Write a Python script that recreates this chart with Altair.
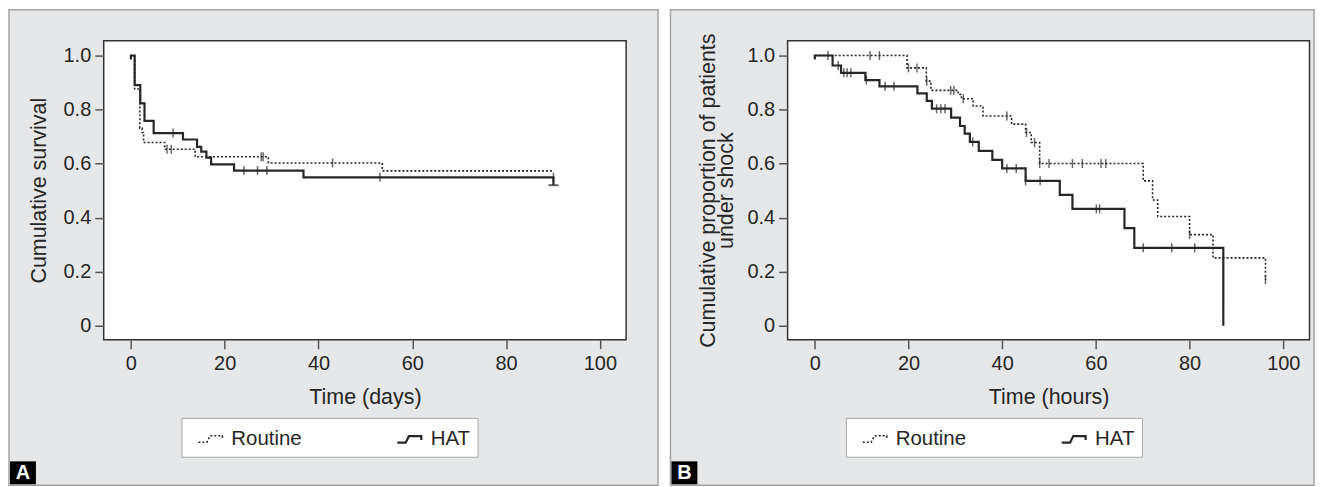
import altair as alt
import pandas as pd

FONT = "Liberation Sans"
INK = "#262626"

# ---------------- Panel A : survival (days) ----------------
a_hat_t = [0, 0, 0.8, 2.0, 2.9, 4.85, 11.1, 14.1, 15.0, 16.1, 17.1, 22.0, 36.8, 90.1, 90.1]
a_hat_v = [0.985, 1.0, 0.890, 0.823, 0.758, 0.713, 0.689, 0.662, 0.644, 0.622, 0.597, 0.574, 0.549, 0.549, 0.52]
a_rou_t = [0, 0.8, 1.9, 2.4, 2.7, 7.2, 13.7, 29.3, 53.6, 90.1]
a_rou_v = [1.0, 0.876, 0.731, 0.715, 0.678, 0.653, 0.625, 0.602, 0.573, 0.573]
a_hat_cens_t = [9.0, 24.1, 27.0, 29.0, 53.1, 90.1]
a_hat_cens_v = [0.713, 0.574, 0.574, 0.574, 0.549, 0.549]
a_rou_cens_t = [7.7, 8.6, 27.8, 28.2, 43.0]
a_rou_cens_v = [0.653, 0.653, 0.625, 0.625, 0.602]
a_end_t = [90.1]
a_end_v = [0.52]

# ---------------- Panel B : shock (hours) ----------------
b_hat_t = [0, 0, 3.8, 5.6, 10.8, 13.8, 21.9, 23.9, 25.0, 29.1, 31.0, 32.0, 33.1, 35.0,
           37.9, 40.0, 45.0, 52.3, 55.0, 66.1, 68.2, 87.2, 87.2]
b_hat_v = [0.985, 1.0, 0.963, 0.936, 0.909, 0.886, 0.860, 0.832, 0.803, 0.770, 0.739, 0.711,
           0.680, 0.647, 0.614, 0.582, 0.536, 0.484, 0.432, 0.361, 0.288, 0.0, 0.0]
b_rou_t = [0, 19.7, 23.8, 24.8, 30.6, 31.3, 33.8, 35.9, 42.0, 45.0, 46.2, 48.0, 70.1, 72.1,
           73.2, 80.0, 85.0, 96.2, 96.2]
b_rou_v = [1.0, 0.954, 0.905, 0.871, 0.856, 0.840, 0.813, 0.776, 0.746, 0.715, 0.678, 0.600,
           0.536, 0.465, 0.404, 0.337, 0.251, 0.170, 0.170]
b_hat_cens_t = [2.8, 5.0, 6.2, 6.9, 7.7, 11.0, 15.0, 16.9, 26.0, 26.9, 27.8, 33.7, 41.0, 43.0,
                45.0, 48.1, 60.1, 60.8, 70.1, 76.2, 81.1]
b_hat_cens_v = [1.0, 0.963, 0.936, 0.936, 0.936, 0.909, 0.886, 0.886, 0.803, 0.803, 0.803,
                0.680, 0.582, 0.582, 0.536, 0.536, 0.432, 0.432, 0.288, 0.288, 0.288]
b_rou_cens_t = [11.8, 13.8, 20.0, 21.8, 23.9, 29.0, 29.7, 31.7, 41.0, 45.2, 46.9, 48.0, 50.0,
                55.0, 57.1, 61.1, 62.1, 80.0, 96.2]
b_rou_cens_v = [1.0, 1.0, 0.954, 0.954, 0.905, 0.871, 0.871, 0.840, 0.776, 0.715, 0.678,
                0.600, 0.600, 0.600, 0.600, 0.600, 0.600, 0.337, 0.170]

groups = ["Routine", "HAT"]
x_ticks = [0, 20, 40, 60, 80, 100]
y_ticks = [0, 0.2, 0.4, 0.6, 0.8, 1.0]

ROU_SYM = "M-1,0.25H-0.35L-0.1,-0.25H0.85V0.05"


def steps(t, v, g):
    return pd.DataFrame({"t": t, "v": v, "group": g, "order": list(range(len(t)))})


def panel(hat_t, hat_v, rou_t, rou_v, hc_t, hc_v, rc_t, rc_v, end_t, end_v,
          xtitle, ytitle, letter, left, right, legx, ytitle_pad, W):
    H = 300
    one = pd.DataFrame({"k": [0]})
    curves = pd.concat([steps(rou_t, rou_v, "Routine"), steps(hat_t, hat_v, "HAT")])
    cens = pd.concat([pd.DataFrame({"t": rc_t, "v": rc_v}), pd.DataFrame({"t": hc_t, "v": hc_v})])

    xs = alt.Scale(domain=[-5.8, 105.6], nice=False, zero=False)
    ys = alt.Scale(domain=[-0.052, 1.055], nice=False, zero=False)
    xax = alt.Axis(values=x_ticks, title=xtitle, grid=False, domain=False, tickSize=9,
                   tickColor="#555", tickWidth=1.5, labelFontSize=20, labelFont=FONT,
                   labelColor=INK, labelPadding=5, titleFontSize=21.5, titleFont=FONT,
                   titleFontWeight="normal", titleColor=INK, titlePadding=13, zindex=1)
    yax = alt.Axis(values=y_ticks, title=ytitle, grid=False, domain=False, tickSize=9,
                   tickColor="#555", tickWidth=1.5, labelFontSize=20, labelFont=FONT,
                   labelColor=INK, labelPadding=4, titleFontSize=21.5, titleFont=FONT,
                   titleFontWeight="normal", titleColor=INK, titlePadding=ytitle_pad,
                   titleLineHeight=19, zindex=1,
                   labelExpr="datum.value == 0 ? '0' : format(datum.value, '.1f')")

    bg = alt.Chart(one).mark_rect(fill="#e6e7e9", stroke="#a3a3a3", strokeWidth=1.5).encode(
        x=alt.value(left), x2=alt.value(W + right), y=alt.value(-31), y2=alt.value(H + 146))
    plotbox = alt.Chart(one).mark_rect(fill="white", stroke="#333", strokeWidth=1.5).encode(
        x=alt.value(0), x2=alt.value(W), y=alt.value(0), y2=alt.value(H))
    tagbox = alt.Chart(one).mark_rect(fill="black").encode(
        x=alt.value(left + 1), x2=alt.value(left + 27), y=alt.value(H + 122), y2=alt.value(H + 145))
    tagtext = alt.Chart(one).mark_text(text=letter, color="white", fontWeight="bold",
                                       fontSize=20, font=FONT, align="center",
                                       baseline="middle").encode(
        x=alt.value(left + 14), y=alt.value(H + 134))

    lines = alt.Chart(curves).mark_line(interpolate="step-after", color=INK).encode(
        x=alt.X("t:Q", scale=xs, axis=xax),
        y=alt.Y("v:Q", scale=ys, axis=yax),
        order="order:Q",
        strokeDash=alt.StrokeDash(
            "group:N",
            scale=alt.Scale(domain=groups, range=[[2, 2], [1, 0]]),
            legend=alt.Legend(orient="none", legendX=legx, legendY=378.4, direction="horizontal",
                              title=None, fillColor="white", strokeColor="#a8a8a8", padding=7,
                              symbolType=ROU_SYM, symbolSize=676, symbolStrokeWidth=1.8,
                              symbolStrokeColor=INK, symbolFillColor="transparent",
                              symbolOffset=9, labelOffset=6,
                              labelFontSize=20.5, labelFont=FONT, labelColor=INK,
                              columnPadding=85, labelLimit=200)),
        strokeWidth=alt.StrokeWidth("group:N",
                                    scale=alt.Scale(domain=groups, range=[1.6, 2.2]),
                                    legend=None),
    )
    ticks = alt.Chart(cens).mark_tick(orient="vertical", size=9, thickness=1.5, color=INK).encode(
        x=alt.X("t:Q", scale=xs), y=alt.Y("v:Q", scale=ys))
    endm = alt.Chart(pd.DataFrame({"t": end_t, "v": end_v})).mark_tick(
        orient="horizontal", size=10, thickness=2, color=INK).encode(
        x=alt.X("t:Q", scale=xs), y=alt.Y("v:Q", scale=ys))
    layers = [bg, plotbox, lines, ticks]
    if end_t:
        layers.append(endm)
    layers += [tagbox, tagtext]
    return alt.layer(*layers).properties(width=W, height=H)


pa = panel(a_hat_t, a_hat_v, a_rou_t, a_rou_v, a_hat_cens_t, a_hat_cens_v,
           a_rou_cens_t, a_rou_cens_v, a_end_t, a_end_v,
           "Time (days)", "Cumulative survival", "A", -95, 32, 78, 13, 524)
pb = panel(b_hat_t, b_hat_v, b_rou_t, b_rou_v, b_hat_cens_t, b_hat_cens_v,
           b_rou_cens_t, b_rou_cens_v, [], [],
           "Time (hours)", ["Cumulative proportion of patients", "under shock"], "B",
           -117.5, 4.5, 58.4, 9, 523.5)

chart = alt.hconcat(pa, pb, spacing=10).resolve_scale(
    strokeDash="independent", strokeWidth="independent", x="independent", y="independent"
).resolve_legend(strokeDash="independent").properties(padding=0, background="white").configure_view(
    stroke=None, fill=None)

chart.save("out.html", embed_options={"renderer": "svg", "actions": False})
